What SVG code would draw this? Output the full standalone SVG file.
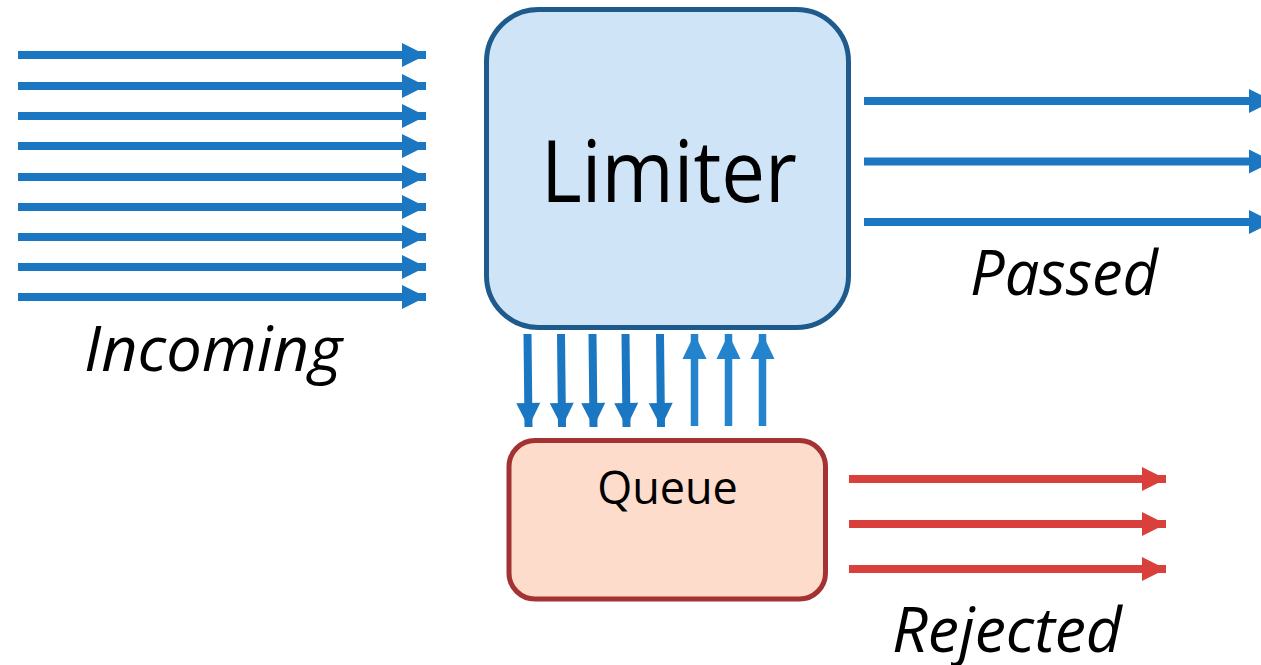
<svg xmlns="http://www.w3.org/2000/svg" width="1261" height="665" viewBox="0 0 1261 665">
  <style>
    .blue { stroke: #1b77c1; stroke-width: 8; fill: none; }
    .blue-up { stroke: #2383cd; stroke-width: 7.5; fill: none; }
    .red { stroke: #d9403b; stroke-width: 8; fill: none; }
    .lbl { font-family: "Open Sans", "Noto Sans", sans-serif; fill: #000; }
    .it { font-style: italic; font-size: 62px; }
  </style>
  <defs>
    <marker id="hb" markerUnits="userSpaceOnUse" markerWidth="24" markerHeight="24" refX="24" refY="12" orient="auto" overflow="visible">
      <path d="M0,0 L24,12 L0,24 Z" fill="#1b77c1"/>
    </marker>
    <marker id="hu" markerUnits="userSpaceOnUse" markerWidth="25" markerHeight="24" refX="25" refY="12" orient="auto" overflow="visible">
      <path d="M0,0 L25,12 L0,24 Z" fill="#2383cd"/>
    </marker>
    <marker id="hr" markerUnits="userSpaceOnUse" markerWidth="24" markerHeight="24" refX="24" refY="12" orient="auto" overflow="visible">
      <path d="M0,0 L24,12 L0,24 Z" fill="#d9403b"/>
    </marker>
  </defs>

  <g id="connectors">
    <g id="incoming-arrows" class="blue">
      <line x1="18" y1="55" x2="426" y2="55" marker-end="url(#hb)"/>
      <line x1="18" y1="86" x2="426" y2="86" marker-end="url(#hb)"/>
      <line x1="18" y1="116" x2="426" y2="116" marker-end="url(#hb)"/>
      <line x1="18" y1="146" x2="426" y2="146" marker-end="url(#hb)"/>
      <line x1="18" y1="177" x2="426" y2="177" marker-end="url(#hb)"/>
      <line x1="18" y1="207" x2="426" y2="207" marker-end="url(#hb)"/>
      <line x1="18" y1="237" x2="426" y2="237" marker-end="url(#hb)"/>
      <line x1="18" y1="267" x2="426" y2="267" marker-end="url(#hb)"/>
      <line x1="18" y1="297" x2="426" y2="297" marker-end="url(#hb)"/>
    </g>
    <g id="passed-arrows" class="blue">
      <line x1="864" y1="101" x2="1273" y2="101" marker-end="url(#hb)"/>
      <line x1="864" y1="161.5" x2="1273" y2="161.5" marker-end="url(#hb)"/>
      <line x1="864" y1="222" x2="1273" y2="222" marker-end="url(#hb)"/>
    </g>
    <g id="down-arrows" class="blue">
      <line x1="527.5" y1="334" x2="528.5" y2="427" marker-end="url(#hb)"/>
      <line x1="561" y1="334" x2="562" y2="427" marker-end="url(#hb)"/>
      <line x1="592.5" y1="334" x2="593.5" y2="427" marker-end="url(#hb)"/>
      <line x1="625.5" y1="334" x2="626.5" y2="427" marker-end="url(#hb)"/>
      <line x1="660" y1="334" x2="661" y2="427" marker-end="url(#hb)"/>
    </g>
    <g id="up-arrows" class="blue-up">
      <line x1="694.5" y1="426" x2="694.5" y2="334" marker-end="url(#hu)"/>
      <line x1="728.5" y1="426" x2="728.5" y2="334" marker-end="url(#hu)"/>
      <line x1="762.5" y1="426" x2="762.5" y2="334" marker-end="url(#hu)"/>
    </g>
    <g id="rejected-arrows" class="red">
      <line x1="849" y1="479" x2="1166" y2="479" marker-end="url(#hr)"/>
      <line x1="849" y1="524" x2="1166" y2="524" marker-end="url(#hr)"/>
      <line x1="849" y1="569" x2="1166" y2="569" marker-end="url(#hr)"/>
    </g>
  </g>

  <g id="limiter">
    <rect x="486.5" y="9.5" width="362" height="318" rx="52" ry="52" fill="#cfe4f7" stroke="#1e5a8c" stroke-width="5"/>
    <text class="lbl" x="669" y="202" font-size="86" text-anchor="middle" textLength="256" lengthAdjust="spacingAndGlyphs">Limiter</text>
  </g>

  <g id="queue">
    <rect x="509" y="440.5" width="316.5" height="158.5" rx="26" ry="26" fill="#fddccc" stroke="#a33232" stroke-width="5"/>
    <text class="lbl" x="667.5" y="504" font-size="45" text-anchor="middle">Queue</text>
  </g>

  <g id="labels">
    <text class="lbl it" x="84" y="371" textLength="258" lengthAdjust="spacingAndGlyphs">Incoming</text>
    <text class="lbl it" x="970" y="295" textLength="188" lengthAdjust="spacingAndGlyphs">Passed</text>
    <text class="lbl it" x="892" y="652" textLength="230" lengthAdjust="spacingAndGlyphs">Rejected</text>
  </g>
</svg>
